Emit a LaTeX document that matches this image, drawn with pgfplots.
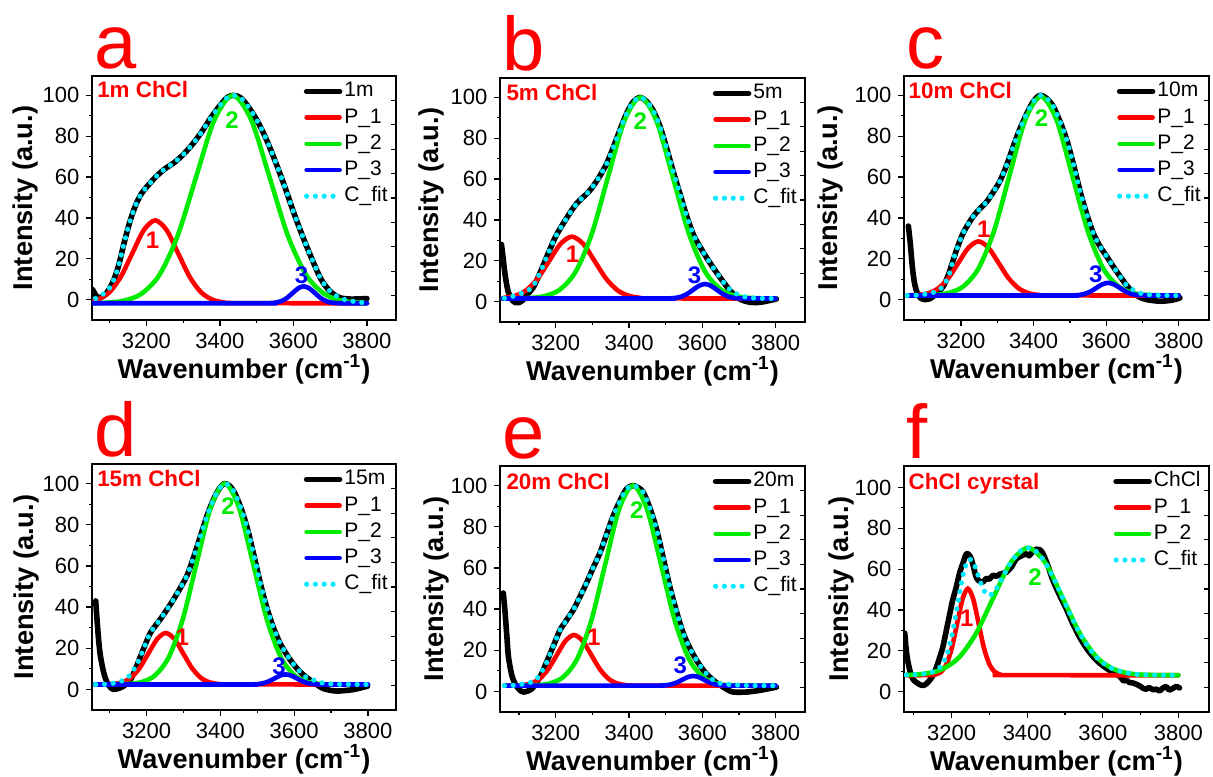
\documentclass[border=0pt]{standalone}
\usepackage{fontspec}
\setmainfont{Liberation Sans}
\usepackage{pgfplots}
\pgfplotsset{compat=1.18}

\definecolor{pgreen}{RGB}{0,235,0}
\definecolor{pcyan}{RGB}{0,235,255}

\tikzset{
  tag/.style={anchor=base west, inner sep=0pt, xshift=1pt, yshift=4pt, text=red,
    font=\fontsize{38}{40}\selectfont},
  sample/.style={anchor=base west, inner sep=0pt, text=red,
    font=\bfseries\fontsize{11.2}{12}\selectfont},
  pk/.style={inner sep=0pt, font=\bfseries\fontsize{12}{13}\selectfont},
}

\pgfplotsset{
  legend image code/.code={\draw[#1] (0pt,0pt) -- (16.5pt,0pt);},
  panel/.style={
    scale only axis, width=152.5pt, height=122pt,
    xmin=3048, xmax=3880, ymin=-10, ymax=109.5,
    clip mode=individual,
    axis line style={line width=0.6pt},
    xtick={3200,3400,3600,3800}, minor xtick={3100,3300,3500,3700},
    ytick={0,20,40,60,80,100}, minor ytick={10,30,50,70,90},
    xtick pos=bottom, ytick pos=left, tick align=outside,
    major tick length=2.8pt, minor tick length=1.6pt,
    tick style={black, line width=0.6pt},
    scaled x ticks=false,
    /pgf/number format/assume math mode=true,
    /pgf/number format/1000 sep={},
    tick label style={font=\fontsize{11}{12}\selectfont},
    label style={font=\bfseries\fontsize{13.6}{15}\selectfont},
    xlabel={Wavenumber (cm\textsuperscript{-1})},
    ylabel={Intensity (a.u.)},
    xlabel style={at={(rel axis cs:0.5,0)}, anchor=base, yshift=-29pt},
    ylabel style={at={(rel axis cs:-0.22,0.5)}, anchor=center},
    legend cell align=left,
    legend style={draw=none, fill=none, at={(1,1)}, anchor=north east,
      xshift=-3pt, yshift=-1.6pt,
      font=\fontsize{10.5}{11}\selectfont, inner sep=0pt, row sep=1.3pt,
      nodes={inner sep=1pt, text height=7.6pt, text depth=2.2pt}},
    after end axis/.code={
      \foreach \r in {0.1,0.2,0.3,0.4,0.5,0.6,0.7,0.8,0.9}
        {\draw[line width=0.6pt] (rel axis cs:1,\r) -- ++(-2.6pt,0pt);}
    },
  },
  dat/.style={black, line width=2.8pt, smooth, line join=round, line cap=round},
  pa/.style={red, line width=2.3pt, smooth, line cap=round},
  pb/.style={pgreen, line width=2.3pt, smooth, line cap=round},
  pc/.style={blue, line width=2.3pt, smooth, line cap=round},
  cfit/.style={pcyan, line width=2.6pt, line cap=round, dash pattern=on 0pt off 4.4pt, smooth},
}

\begin{document}
\begin{tikzpicture}
\useasboundingbox (0,0) rectangle (606.5pt,-388pt);

% ---------- a ----------
\begin{axis}[panel, at={(46pt,-160pt)}, anchor=south west, width=152pt, xmin=3052, xmax=3879]
\addplot[dat] coordinates {(3053,5) (3058,3.5) (3065,1.5) (3075,1) (3088,2.5) (3100,5.5) (3112,10) (3125,17) (3137,26) (3150,35) (3162,42) (3175,48) (3187,52) (3200,55) (3225,60) (3250,64) (3275,67) (3300,71) (3325,76) (3350,82) (3375,89) (3400,95) (3420,99) (3437,100) (3455,99) (3475,95) (3500,88) (3525,79) (3550,68) (3575,56) (3600,43) (3625,31) (3650,20) (3675,10) (3700,4) (3725,1) (3750,0.3) (3775,0.3) (3800,0.5)};
\addlegendentry{1m}
\addplot[pa] coordinates {(3058,-0.68) (3069,-0.02) (3100,3.69) (3131,11.38) (3162,22.82) (3193,34.03) (3224,38.8) (3255,34.03) (3286,22.82) (3317,11.38) (3348,3.69) (3379,-0.02) (3410,-1.35) (3441,-1.71) (3800,-1.8)};
\addlegendentry{P\_1}
\addplot[pb] coordinates {(3058,-1.78) (3085,-1.58) (3135,-0.67) (3185,2.67) (3235,11.97) (3285,31.25) (3335,59.94) (3385,88.04) (3435,100) (3485,88.04) (3535,59.94) (3585,31.25) (3635,11.97) (3685,2.67) (3735,-0.67) (3785,-1.58) (3800,-1.7)};
\addlegendentry{P\_2}
\addplot[pc] coordinates {(3055,-1.8) (3523,-1.78) (3538,-1.71) (3553,-1.44) (3568,-0.68) (3583,0.90) (3598,3.23) (3613,5.53) (3628,6.5) (3643,5.53) (3658,3.23) (3673,0.90) (3688,-0.68) (3703,-1.44) (3718,-1.71) (3733,-1.78) (3800,-1.8)};
\addlegendentry{P\_3}
\addplot[cfit] coordinates {(3062,0.5) (3075,1.8) (3088,3.5) (3100,5.8) (3112,10) (3125,17) (3137,26) (3150,35) (3162,42) (3175,48) (3187,52) (3200,55) (3225,60) (3250,64) (3275,67) (3300,71) (3325,76) (3350,82) (3375,89) (3400,95) (3420,99) (3437,100) (3455,99) (3475,95) (3500,88) (3525,79) (3550,68) (3575,56) (3600,43) (3625,31) (3650,20) (3675,10) (3700,4) (3725,1) (3750,-0.5) (3790,-1.5)};
\addlegendentry{C\_fit}
\node[tag] at (rel axis cs:0,1) {a};
\node[sample] at (rel axis cs:0.016,0.91) {1m ChCl};
\node[pk, text=red] at (axis cs:3217,29) {1};
\node[pk, text=pgreen] at (axis cs:3433,88) {2};
\node[pk, text=blue] at (axis cs:3622,12) {3};
\end{axis}

% ---------- b ----------
\begin{axis}[panel, at={(250pt,-161pt)}, anchor=south west, ylabel style={at={(rel axis cs:-0.224,0.5)}}]
\addplot[dat] coordinates {(3052,28) (3056,22) (3062,13) (3070,5) (3080,1) (3090,-0.5) (3100,-0.5) (3112,1) (3125,4) (3139,7) (3157,14) (3175,21.7) (3190,28) (3203,33) (3230,41) (3257,48) (3284,52.7) (3300,56) (3321,61.7) (3340,68) (3357,75.5) (3375,84) (3393,92) (3412,98) (3431,100) (3448,98) (3466,93.5) (3484,86) (3502,75.5) (3520,64) (3539,52.7) (3557,42) (3575,33) (3593,27) (3611,21.7) (3630,16.5) (3648,11.9) (3666,7.5) (3684,3.8) (3705,1) (3729,-0.3) (3760,-0.3) (3802,1.3)};
\addlegendentry{5m}
\addplot[pa] coordinates {(3058,1.84) (3089,2.83) (3120,5.60) (3151,11.34) (3182,19.88) (3213,28.24) (3244,31.8) (3275,28.24) (3306,19.88) (3337,11.34) (3368,5.60) (3399,2.83) (3430,1.84) (3461,1.57) (3800,1.5)};
\addlegendentry{P\_1}
\addplot[pb] coordinates {(3055,1.5) (3123,1.72) (3167,2.59) (3211,5.82) (3255,14.83) (3299,33.48) (3343,61.24) (3387,88.43) (3431,100) (3475,88.43) (3519,61.24) (3563,33.48) (3607,14.83) (3651,5.82) (3695,2.59) (3739,1.72) (3800,1.52)};
\addlegendentry{P\_2}
\addplot[pc] coordinates {(3055,1.5) (3495,1.52) (3511,1.58) (3527,1.81) (3543,2.46) (3559,3.81) (3575,5.81) (3591,7.77) (3607,8.6) (3623,7.77) (3639,5.81) (3655,3.81) (3671,2.46) (3687,1.81) (3703,1.58) (3719,1.52) (3800,1.5)};
\addlegendentry{P\_3}
\addplot[cfit] coordinates {(3060,1.6) (3089,2.9) (3112,4.6) (3135,6.7) (3157,14) (3175,21.7) (3190,28) (3203,33) (3230,41) (3257,48) (3284,52.7) (3300,56) (3321,61.7) (3340,68) (3357,75.5) (3375,84) (3393,92) (3412,98) (3431,100) (3448,98) (3466,93.5) (3484,86) (3502,75.5) (3520,64) (3539,52.7) (3557,42) (3575,33) (3593,27) (3611,21.7) (3630,16.5) (3648,11.9) (3666,7.5) (3684,4.8) (3705,2.8) (3730,1.9) (3760,1.6) (3800,1.5)};
\addlegendentry{C\_fit}
\node[tag] at (rel axis cs:0,1) {b};
\node[sample] at (rel axis cs:0.02,0.906) {5m ChCl};
\node[pk, text=red] at (axis cs:3246,23.3) {1};
\node[pk, text=pgreen] at (axis cs:3431,88.6) {2};
\node[pk, text=blue] at (axis cs:3579,12.7) {3};
\end{axis}

% ---------- c ----------
\begin{axis}[panel, at={(452pt,-160pt)}, anchor=south west, xmin=3043, xmax=3883, ylabel style={at={(rel axis cs:-0.24,0.5)}}]
\addplot[dat] coordinates {(3055,36) (3060,28) (3066,16) (3072,8) (3080,3) (3090,0.5) (3100,0) (3115,0.5) (3133,3) (3151,6.5) (3165,12) (3179,19.6) (3192,26.5) (3206,32.6) (3220,37) (3234,40.8) (3252,44.5) (3271,48) (3290,53) (3307,58) (3326,66) (3344,75) (3362,83.5) (3381,91) (3399,97) (3417,100) (3436,98.5) (3454,94.6) (3472,87.5) (3491,78.3) (3510,66) (3528,53) (3546,42) (3564,32.6) (3583,26) (3601,21.2) (3620,16) (3638,11.4) (3656,7) (3674,3.3) (3692,1.2) (3711,0) (3748,-0.8) (3780,-0.3) (3803,0.8)};
\addlegendentry{10m}
\addplot[pa] coordinates {(3052,2.04) (3083,2.29) (3110.5,3.16) (3138,5.59) (3165.5,10.60) (3193,18.07) (3220.5,25.39) (3248,28.5) (3275.5,25.39) (3303,18.07) (3330.5,10.60) (3358,5.59) (3385.5,3.16) (3413,2.29) (3440.5,2.06) (3800,2)};
\addlegendentry{P\_1}
\addplot[pb] coordinates {(3052,2) (3119,2.21) (3162,3.08) (3205,6.28) (3248,15.19) (3291,33.66) (3334,61.13) (3377,88.04) (3420,99.5) (3463,88.04) (3506,61.13) (3549,33.66) (3592,15.19) (3635,6.28) (3678,3.08) (3721,2.21) (3800,2.02)};
\addlegendentry{P\_2}
\addplot[pc] coordinates {(3052,2) (3493,2.01) (3509,2.07) (3525,2.27) (3541,2.84) (3557,4.01) (3573,5.76) (3589,7.47) (3605,8.2) (3621,7.47) (3637,5.76) (3653,4.01) (3669,2.84) (3685,2.27) (3701,2.07) (3717,2.01) (3800,2)};
\addlegendentry{P\_3}
\addplot[cfit] coordinates {(3052,2) (3080,2.2) (3105,2.8) (3125,3.6) (3145,5.5) (3165,11) (3179,19.6) (3192,26.5) (3206,32.6) (3220,37) (3234,40.8) (3252,44.5) (3271,48) (3290,53) (3307,58) (3326,66) (3344,75) (3362,83.5) (3381,91) (3399,97) (3417,100) (3436,98.5) (3454,94.6) (3472,87.5) (3491,78.3) (3510,66) (3528,53) (3546,42) (3564,32.6) (3583,26) (3601,21.2) (3620,16) (3638,11.4) (3656,7) (3674,4.8) (3692,3.2) (3711,2.5) (3748,2.1) (3800,2)};
\addlegendentry{C\_fit}
\node[tag] at (rel axis cs:0,1) {c};
\node[sample] at (rel axis cs:0.014,0.909) {10m ChCl};
\node[pk, text=red] at (axis cs:3263,34.3) {1};
\node[pk, text=pgreen] at (axis cs:3422,88.9) {2};
\node[pk, text=blue] at (axis cs:3571,12.2) {3};
\end{axis}

% ---------- d ----------
\begin{axis}[panel, at={(46pt,-355pt)}, anchor=south west, width=152pt, height=123pt, xmin=3052, xmax=3876, ylabel style={at={(rel axis cs:-0.215,0.5)}}]
\addplot[dat] coordinates {(3062,43) (3066,33) (3070,24) (3075,16) (3084,8) (3093,3.3) (3102,1) (3111,0) (3129,0.8) (3143,2.3) (3157,4.9) (3170,10) (3184,16.3) (3198,22.5) (3211,27.7) (3238,34.3) (3256,39) (3274,44) (3292,49.5) (3310,55.5) (3328,64.5) (3347,75) (3365,85) (3383,93) (3397,97.5) (3410,100) (3424,99) (3437,96) (3455,88.5) (3473,78.3) (3491,65) (3509,51) (3527,39) (3545,29.4) (3563,22) (3582,16.3) (3600,11.8) (3618,8.2) (3636,5.5) (3654,3.3) (3668,1.5) (3681,0.3) (3700,-0.5) (3718,-0.8) (3740,-0.5) (3763,0) (3799,1.6)};
\addlegendentry{15m}
\addplot[pa] coordinates {(3060,2.41) (3087.5,2.46) (3111,2.68) (3134.5,3.50) (3158,5.78) (3181.5,10.52) (3205,17.56) (3228.5,24.46) (3252,27.4) (3275.5,24.46) (3299,17.56) (3322.5,10.52) (3346,5.78) (3369.5,3.50) (3393,2.68) (3416.5,2.46) (3800,2.4)};
\addlegendentry{P\_1}
\addplot[pb] coordinates {(3060,2.4) (3146,2.62) (3184,3.48) (3222,6.69) (3260,15.61) (3298,34.09) (3336,61.59) (3374,88.53) (3412,100) (3450,88.53) (3488,61.59) (3526,34.09) (3564,15.61) (3602,6.69) (3640,3.48) (3678,2.62) (3800,2.4)};
\addlegendentry{P\_2}
\addplot[pc] coordinates {(3060,2.4) (3472,2.41) (3487,2.45) (3502,2.62) (3517,3.06) (3532,3.99) (3547,5.37) (3562,6.72) (3577,7.3) (3592,6.72) (3607,5.37) (3622,3.99) (3637,3.06) (3652,2.62) (3667,2.45) (3682,2.41) (3800,2.4)};
\addlegendentry{P\_3}
\addplot[cfit] coordinates {(3062,2.4) (3093,2.6) (3125,3.6) (3150,6) (3170,11) (3184,16.3) (3198,22.5) (3211,27.7) (3238,34.3) (3256,39) (3274,44) (3292,49.5) (3310,55.5) (3328,64.5) (3347,75) (3365,85) (3383,93) (3397,97.5) (3410,100) (3424,99) (3437,96) (3455,88.5) (3473,78.3) (3491,65) (3509,51) (3527,39) (3545,29.4) (3563,22) (3582,16.3) (3600,11.8) (3618,8.2) (3636,5.5) (3654,4.5) (3670,3.4) (3690,2.8) (3720,2.5) (3800,2.4)};
\addlegendentry{C\_fit}
\node[tag] at (rel axis cs:0,1) {d};
\node[sample] at (rel axis cs:0.016,0.91) {15m ChCl};
\node[pk, text=red] at (axis cs:3297,25.3) {1};
\node[pk, text=pgreen] at (axis cs:3421,88.9) {2};
\node[pk, text=blue] at (axis cs:3559,11.4) {3};
\end{axis}

% ---------- e ----------
\begin{axis}[panel, at={(250pt,-356pt)}, anchor=south west, height=123pt, ylabel style={at={(rel axis cs:-0.207,0.5)}}]
\addplot[dat] coordinates {(3057,47.8) (3062,38) (3067,26) (3071,16.8) (3080,8) (3089,3.8) (3100,1) (3112,-0.3) (3135,1.3) (3157,7) (3171,12.5) (3185,18.4) (3198,24) (3212,29.9) (3230,34.8) (3248,39.6) (3266,46) (3284,52.7) (3302,60) (3321,67.4) (3339,76.5) (3357,85.3) (3375,92.5) (3393,98.4) (3411,100) (3425,99) (3439,96.7) (3457,89) (3475,78.8) (3493,65) (3511,51) (3530,38.5) (3548,28.2) (3566,21) (3584,15.2) (3602,10.5) (3620,7) (3638,4.3) (3657,2.1) (3670,0.7) (3684,-0.3) (3720,-0.3) (3756,0.5) (3802,2.1)};
\addlegendentry{20m}
\addplot[pa] coordinates {(3060,2.81) (3085.5,2.85) (3109,3.07) (3132.5,3.88) (3156,6.13) (3179.5,10.79) (3203,17.72) (3226.5,24.51) (3250,27.4) (3273.5,24.51) (3297,17.72) (3320.5,10.79) (3344,6.13) (3367.5,3.88) (3391,3.07) (3414.5,2.85) (3800,2.8)};
\addlegendentry{P\_1}
\addplot[pb] coordinates {(3060,2.8) (3145,3.01) (3183,3.88) (3221,7.07) (3259,15.95) (3297,34.36) (3335,61.75) (3373,88.58) (3411,100) (3449,88.58) (3487,61.75) (3525,34.36) (3563,15.95) (3601,7.07) (3639,3.88) (3677,3.01) (3800,2.8)};
\addlegendentry{P\_2}
\addplot[pc] coordinates {(3060,2.8) (3470,2.81) (3485,2.85) (3500,3.01) (3515,3.44) (3530,4.33) (3545,5.65) (3560,6.95) (3575,7.5) (3590,6.95) (3605,5.65) (3620,4.33) (3635,3.44) (3650,3.01) (3665,2.85) (3680,2.81) (3800,2.8)};
\addlegendentry{P\_3}
\addplot[cfit] coordinates {(3060,2.8) (3090,3) (3120,4) (3145,5.5) (3171,12.5) (3185,18.4) (3198,24) (3212,29.9) (3230,34.8) (3248,39.6) (3266,46) (3284,52.7) (3302,60) (3321,67.4) (3339,76.5) (3357,85.3) (3375,92.5) (3393,98.4) (3411,100) (3425,99) (3439,96.7) (3457,89) (3475,78.8) (3493,65) (3511,51) (3530,38.5) (3548,28.2) (3566,21) (3584,15.2) (3602,10.5) (3620,7) (3638,4.4) (3657,3.7) (3684,3.2) (3720,2.9) (3800,2.8)};
\addlegendentry{C\_fit}
\node[tag] at (rel axis cs:0,1) {e};
\node[sample] at (rel axis cs:0.02,0.906) {20m ChCl};
\node[pk, text=red] at (axis cs:3304,26.3) {1};
\node[pk, text=pgreen] at (axis cs:3421,88.3) {2};
\node[pk, text=blue] at (axis cs:3540,12.7) {3};
\end{axis}

% ---------- f ----------
\begin{axis}[panel, at={(452pt,-356pt)}, anchor=south west, height=123pt, xmin=3074, xmax=3881, ymax=110.5, ylabel style={at={(rel axis cs:-0.205,0.5)}}]
\addplot[dat] coordinates {(3076,28.6) (3079,22) (3083,16) (3090,10) (3098,6) (3107,4.5) (3115,3.5) (3125,3) (3134,4) (3142,5.6) (3151,8) (3160,12) (3168,16.5) (3177,22) (3186,30) (3195,38) (3203,45) (3212,51) (3221,58) (3230,63) (3239,67.5) (3246,67) (3252,65) (3258,61) (3265,56) (3274,54) (3283,53.7) (3292,55.5) (3300,55) (3309,57) (3318,56.5) (3327,57.5) (3336,58) (3345,58.5) (3358,61) (3371,65) (3385,66.5) (3398,67.5) (3405,66.5) (3412,68) (3424,69.8) (3433,69.5) (3442,67.5) (3455,61.5) (3468,54.5) (3485,47.5) (3503,40.7) (3520,33.5) (3538,26.9) (3556,21.5) (3574,17.2) (3591,14) (3609,11.5) (3627,9.4) (3645,7.4) (3655,5.2) (3662,5.8) (3670,4.5) (3680,4.2) (3690,3.5) (3700,2.5) (3706,1.7) (3715,1.2) (3722,2) (3733,0.9) (3742,1.2) (3750,0.3) (3758,1.6) (3768,2.5) (3775,0.8) (3785,1.5) (3794,2.5) (3803,1.8)};
\addlegendentry{ChCl}
\addplot[pa] coordinates {(3080,8) (3145,8.09) (3159,8.47) (3173,9.86) (3187,13.74) (3201,21.77) (3215,33.72) (3229,45.42) (3243,50.4) (3257,45.42) (3271,33.72) (3285,21.77) (3299,13.74) (3313,9.86) (3327,8.47) (3341,8.09) (3800,8)};
\addlegendentry{P\_1}
\addplot[pb] coordinates {(3080,8.14) (3126,8.69) (3172,10.74) (3218,16.44) (3264,28.26) (3310,45.85) (3356,63.07) (3402,70.4) (3448,63.07) (3494,45.85) (3540,28.26) (3586,16.44) (3632,10.74) (3678,8.69) (3724,8.14) (3800,8.02)};
\addlegendentry{P\_2}
\addplot[cfit] coordinates {(3080,8.14) (3126,8.70) (3145,9.37) (3159,10.37) (3173,12.67) (3187,17.80) (3201,27.55) (3215,41.63) (3229,56.07) (3243,64.42) (3257,63.44) (3271,56.36) (3285,49.56) (3299,47.07) (3313,48.95) (3327,53.24) (3341,58.18) (3356,63.07) (3380,68.64) (3402,70.4) (3424,68.64) (3448,63.07) (3471,55.1) (3494,45.85) (3517,36.6) (3540,28.26) (3563,21.5) (3586,16.44) (3609,12.97) (3632,10.74) (3678,8.69) (3724,8.14) (3800,8.0)};
\addlegendentry{C\_fit}
\node[tag] at (rel axis cs:0,1) {f};
\node[sample] at (rel axis cs:0.014,0.906) {ChCl cyrstal};
\node[pk, text=red] at (axis cs:3240,35.8) {1};
\node[pk, text=pgreen] at (axis cs:3421,56.1) {2};
\end{axis}
\end{tikzpicture}
\end{document}
